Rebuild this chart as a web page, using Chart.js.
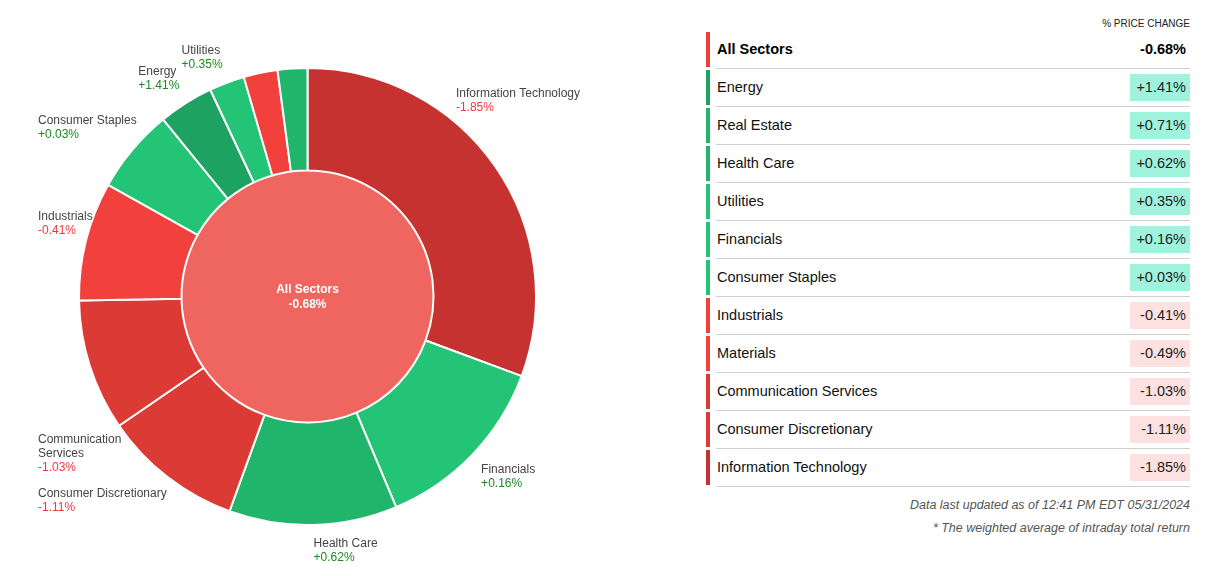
<!DOCTYPE html>
<html>
<head>
<meta charset="utf-8">
<script src="https://cdn.jsdelivr.net/npm/chart.js@4"></script>
<style>
  html, body { margin: 0; padding: 0; background: #fff; overflow: hidden; }
  body { width: 1213px; height: 576px; position: relative; font-family: "Liberation Sans", Arial, sans-serif; }
  #chartBox { position: absolute; left: 0; top: 0; width: 640px; height: 576px; }
  #table { position: absolute; left: 706px; top: 0; width: 484px; height: 576px; }
  .head { position: absolute; right: 0; top: 17px; font-size: 10px; line-height: 14px; color: #222; }
  .row { position: absolute; left: 0; width: 484px; height: 37px; }
  .bar { position: absolute; left: 0; top: 1px; width: 4px; height: 35px; }
  .cell { position: absolute; left: 10px; right: 0; top: 0; height: 37px; border-bottom: 1px solid #cfcfcf; }
  .name { position: absolute; left: 1px; top: 0; line-height: 37px; font-size: 14.5px; color: #111; }
  .val { position: absolute; right: 0; top: 5px; width: 60px; height: 27px; line-height: 27px; text-align: right; font-size: 14.5px; color: #222; box-sizing: border-box; padding-right: 4px; }
  .all .name, .all .val { font-weight: bold; color: #000; }
  .note { position: absolute; right: 23px; font-size: 12.5px; line-height: 16px; font-style: italic; color: #555; }
</style>
</head>
<body>
<div id="chartBox"><canvas id="sectorChart" width="640" height="576"></canvas></div>
<div id="table"></div>
<div class="note" style="top:497px">Data last updated as of 12:41 PM EDT 05/31/2024</div>
<div class="note" style="top:520px">* The weighted average of intraday total return</div>

<script>
// sector order as drawn clockwise from 12 o'clock
const sectors = ["Information Technology", "Financials", "Health Care", "Consumer Discretionary",
  "Communication Services", "Industrials", "Consumer Staples", "Energy", "Utilities", "Materials", "Real Estate"];
// index weight (% of market cap) -> slice size
const weights = [30.7, 13.0, 11.9, 9.9, 9.3, 8.4, 6.0, 3.9, 2.5, 2.4, 2.1];
// % price change
const changes = [-1.85, 0.16, 0.62, -1.11, -1.03, -0.41, 0.03, 1.41, 0.35, -0.49, 0.71];
const allLabel = "All Sectors";
const allChange = -0.68;
const headerText = "% PRICE CHANGE";

const minLabelShare = 2.45;

function fmt(v) {
  return (v > 0 ? "+" : v < 0 ? "-" : "") + Math.abs(v).toFixed(2) + "%";
}
function colorFor(v) {
  if (v >= 1) return "#1ea262";
  if (v >= 0.5) return "#21b56c";
  if (v >= 0) return "#24c477";
  if (v > -0.5) return "#f2403d";
  if (v > -1.5) return "#dc3a35";
  return "#c53230";
}

function wrap(ctx, text, maxW) {
  if (ctx.measureText(text).width <= maxW) return [text];
  const words = text.split(" ");
  const out = [];
  let cur = "";
  words.forEach(w => {
    const t = cur ? cur + " " + w : w;
    if (cur && ctx.measureText(t).width > maxW) { out.push(cur); cur = w; }
    else cur = t;
  });
  if (cur) out.push(cur);
  return out;
}

const labelPlugin = {
  id: "sectorLabels",
  afterDatasetsDraw(chart) {
    const ctx = chart.ctx;
    const meta = chart.getDatasetMeta(0);
    const total = weights.reduce((a, b) => a + b, 0);
    const lineH = 14, minLeft = 38, maxRight = 580;
    ctx.save();
    ctx.font = '12px "Liberation Sans", Arial, sans-serif';
    ctx.textBaseline = "middle";
    ctx.textAlign = "left";
    meta.data.forEach((arc, i) => {
      if (weights[i] / total * 100 < minLabelShare) return;
      const p = arc.getProps(["x", "y", "outerRadius", "startAngle", "endAngle"], true);
      const mid = (p.startAngle + p.endAngle) / 2;
      const r = p.outerRadius + 12;
      const ax = p.x + Math.cos(mid) * r;
      let ay = p.y + Math.sin(mid) * r;
      const lines = wrap(ctx, sectors[i], 130);
      const w = Math.max(...lines.map(l => ctx.measureText(l).width), ctx.measureText(fmt(changes[i])).width);
      const h = (lines.length + 1) * lineH;
      const onRight = Math.cos(mid) >= 0;
      const lower = Math.sin(mid) > 0;
      let left = onRight ? ax : ax - w;
      if (left + w > maxRight) {
        // slide along the ring until the text fits
        left = maxRight - w;
        const rs = p.outerRadius + 6;
        const dx = left - p.x;
        const dy = Math.sqrt(Math.max(rs * rs - dx * dx, 0));
        ay = lower ? p.y + dy : p.y - dy;
      }
      if (left < minLeft) left = minLeft;
      let top = lower ? ay : ay - h;
      if (lower && !onRight) {
        const lim = p.outerRadius + 2;
        while (Math.hypot(left + w - p.x, top - p.y) < lim) top += 1;
      }
      lines.forEach((l, k) => {
        ctx.fillStyle = "#444";
        ctx.fillText(l, left, top + 7 + k * lineH);
      });
      ctx.fillStyle = changes[i] >= 0 ? "#1b8a1b" : "#f0393a";
      ctx.fillText(fmt(changes[i]), left, top + 7 + lines.length * lineH);
    });
    // center text
    const c = chart.getDatasetMeta(1).data[0];
    ctx.fillStyle = "#fff";
    ctx.textAlign = "center";
    ctx.font = 'bold 12px "Liberation Sans", Arial, sans-serif';
    ctx.fillText(allLabel, c.x, c.y - 7);
    ctx.fillText(fmt(allChange), c.x, c.y + 8);
    ctx.restore();
  }
};

new Chart(document.getElementById("sectorChart"), {
  type: "doughnut",
  data: {
    labels: sectors,
    datasets: [
      {
        data: weights,
        backgroundColor: changes.map(colorFor),
        borderColor: "#fff",
        borderWidth: 2,
        weight: 102.5,
      },
      {
        data: [1],
        backgroundColor: ["#ef6661"],
        borderWidth: 0,
        weight: 126,
      },
    ],
  },
  options: {
    responsive: false,
    animation: false,
    cutout: 0,
    radius: 228.5,
    layout: { padding: { top: 17, right: 25, left: 0, bottom: 0 } },
    plugins: { legend: { display: false }, tooltip: { enabled: false } },
  },
  plugins: [labelPlugin],
});

// table, sorted by change
const table = document.getElementById("table");
const head = document.createElement("div");
head.className = "head";
head.textContent = headerText;
table.appendChild(head);

const rows = [{ name: allLabel, v: allChange, all: true }].concat(
  sectors.map((s, i) => ({ name: s, v: changes[i] })).sort((a, b) => b.v - a.v)
);
rows.forEach((r, i) => {
  const row = document.createElement("div");
  row.className = "row" + (r.all ? " all" : "");
  row.style.top = (31 + 38 * i) + "px";
  const bar = document.createElement("div");
  bar.className = "bar";
  bar.style.background = r.all ? "#e8413c" : colorFor(r.v);
  const cell = document.createElement("div");
  cell.className = "cell";
  const name = document.createElement("div");
  name.className = "name";
  name.textContent = r.name;
  const val = document.createElement("div");
  val.className = "val";
  val.textContent = fmt(r.v);
  if (!r.all) val.style.background = r.v >= 0 ? "#9ff3dd" : "#fde0e0";
  cell.appendChild(name);
  cell.appendChild(val);
  row.appendChild(bar);
  row.appendChild(cell);
  table.appendChild(row);
});
</script>
</body>
</html>
